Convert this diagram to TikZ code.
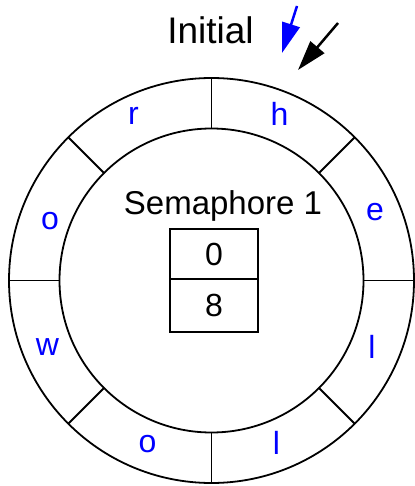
\documentclass[tikz,border=0pt]{standalone}
\usepackage{fontspec}
\setmainfont{Liberation Sans}
\usetikzlibrary{arrows.meta}
\definecolor{lblue}{RGB}{0,0,255}
\tikzset{
  ring/.style={circle,draw,line width=1.8pt,inner sep=0pt,outer sep=0pt},
  divider/.style={line width=1.8pt},
  letter/.style={text=lblue,font=\fontsize{32}{32}\selectfont,inner sep=0pt},
  cell/.style={draw,line width=1.8pt,minimum width=88pt,inner sep=0pt,outer sep=0pt,font=\fontsize{32}{32}\selectfont},
  bigtext/.style={font=\fontsize{33}{33}\selectfont,inner sep=0pt},
  ptr/.style={line width=2.5pt,-{Triangle[length=30pt,width=18pt]}}
}
\begin{document}
\begin{tikzpicture}[x=1pt,y=-1pt]
\useasboundingbox (0,0) rectangle (414,486);
\coordinate (C) at (211.5,280.5);
\node[ring,minimum size=405pt] (outer) at (C) {};
\node[ring,minimum size=304pt] (inner) at (C) {};
\foreach \a in {0,45,...,315}{
  \draw[divider] (inner.\a) -- (outer.\a);
}
\foreach \t/\x/\y/\n in {h/279.5/114/l1,e/375/212.5/l2,l/372/346.5/l3,l/276.5/442.5/l4,o/147.5/444/l5,w/47.5/347.5/l6,o/50/221/l7,r/133.5/116/l8}{
  \node[letter] (\n) at (\x,\y) {\t};
}
\node[bigtext,anchor=base] (sem) at (223,214) {Semaphore 1};
\node[cell,minimum height=50pt] (top) at (214,254) {0};
\node[cell,minimum height=53pt] (bot) at (214,305.5) {8};
\node[bigtext,font=\fontsize{37}{37}\selectfont,anchor=base] (init) at (210.5,43.5) {Initial};
\coordinate (bs) at (297,6);
\coordinate (bt) at (282,53);
\coordinate (ks) at (338,23);
\coordinate (kt) at (298,70);
\draw[ptr,draw=lblue,fill=lblue] (bs) -- (bt);
\draw[ptr] (ks) -- (kt);
\end{tikzpicture}
\end{document}
